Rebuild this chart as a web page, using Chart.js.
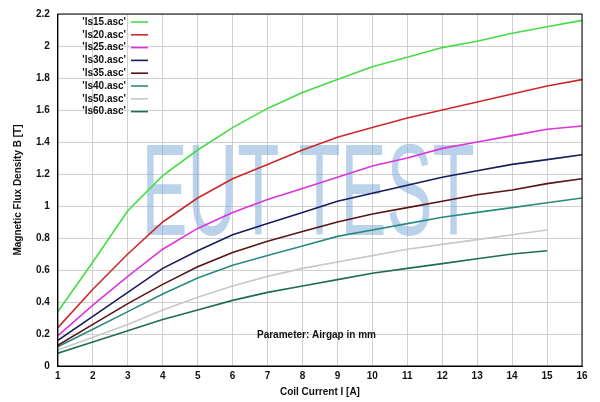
<!DOCTYPE html>
<html><head><meta charset="utf-8">
<script src="https://cdn.jsdelivr.net/npm/chart.js@4"></script>
<style>html,body{margin:0;padding:0;background:#fff}#w{width:600px;height:402px}</style>
</head><body><div id="w"><canvas id="c"></canvas></div>
<script>
const currents = [1,2,3,4,5,6,7,8,9,10,11,12,13,14,15,16];
const labels = ["'ls15.asc'","'ls20.asc'","'ls25.asc'","'ls30.asc'","'ls35.asc'","'ls40.asc'","'ls50.asc'","'ls60.asc'"];
const ls15 = [0.34,0.65,0.97,1.19,1.35,1.49,1.61,1.71,1.79,1.87,1.93,1.99,2.03,2.08,2.12,2.16];
const ls20 = [0.24,0.48,0.70,0.90,1.05,1.17,1.26,1.35,1.43,1.49,1.55,1.60,1.65,1.70,1.75,1.79];
const ls25 = [0.19,0.38,0.56,0.73,0.86,0.96,1.04,1.11,1.18,1.25,1.30,1.36,1.40,1.44,1.48,1.50];
const ls30 = [0.16,0.31,0.46,0.61,0.72,0.82,0.89,0.96,1.03,1.08,1.13,1.18,1.22,1.26,1.29,1.32];
const ls35 = [0.13,0.26,0.39,0.51,0.62,0.71,0.78,0.84,0.90,0.95,0.99,1.03,1.07,1.10,1.14,1.17];
const ls40 = [0.12,0.23,0.34,0.45,0.55,0.63,0.69,0.75,0.81,0.85,0.89,0.93,0.96,0.99,1.02,1.05];
const ls50 = [0.10,0.18,0.26,0.35,0.43,0.50,0.56,0.61,0.65,0.69,0.73,0.76,0.79,0.82,0.85];
const ls60 = [0.08,0.15,0.22,0.29,0.35,0.41,0.46,0.50,0.54,0.58,0.61,0.64,0.67,0.70,0.72];
const series = [ls15,ls20,ls25,ls30,ls35,ls40,ls50,ls60];
const colors = ['#44dd44','#cc2a2a','#dd33dd','#1a1a5e','#5a1414','#2a8a80','#c8c8c8','#1f6e4e'];

const datasets = series.map((s,i)=>({label:labels[i],data:s.map((v,j)=>({x:currents[j],y:v})),borderColor:colors[i],borderWidth:1.6,pointRadius:0,fill:false,tension:0}));

const deco = {
  id:'deco',
  beforeDatasetsDraw(ch){
    const {ctx}=ch;
    ctx.save();
    ctx.fillStyle='rgba(130,175,218,0.55)';
    ctx.font='130px "Liberation Sans", Arial, sans-serif';
    ctx.textAlign='center';ctx.textBaseline='alphabetic';
    ctx.translate(308,235);ctx.scale(0.53,1);
    ctx.fillText('EUT TEST',0,0);
    ctx.restore();
  },
  afterDatasetsDraw(ch){
    const {ctx,chartArea:a,scales}=ch;
    ctx.save();
    ctx.font='bold 10px "Liberation Sans", Arial, sans-serif';
    ctx.fillStyle='#111';ctx.textBaseline='middle';ctx.textAlign='right';
    labels.forEach((l,i)=>{
      const y=22+i*12.8;
      ctx.fillText(l,126,y);
      ctx.strokeStyle=colors[i];ctx.lineWidth=1.6;
      ctx.beginPath();ctx.moveTo(131,y);ctx.lineTo(148,y);ctx.stroke();
    });
    ctx.textAlign='center';
    ctx.fillText('Parameter: Airgap in mm',scales.x.getPixelForValue(8.4),scales.y.getPixelForValue(0.19));
    ctx.strokeStyle='#000';ctx.lineWidth=1;
    ctx.strokeRect(a.left,a.top,a.right-a.left,a.bottom-a.top);
    ctx.restore();
  }
};

new Chart(document.getElementById('c'),{
  type:'line',
  data:{datasets},
  options:{
    responsive:true,maintainAspectRatio:false,animation:false,
    layout:{padding:{top:6,right:18,left:8,bottom:0}},
    plugins:{legend:{display:false},tooltip:{enabled:false}},
    scales:{
      x:{type:'linear',min:1,max:16,
        ticks:{stepSize:1,color:'#111',font:{size:10,weight:'bold',family:'"Liberation Sans", Arial'},padding:4},
        grid:{color:'#cfcfcf',tickLength:0},border:{color:'#000'},
        title:{display:true,text:'Coil Current I [A]',color:'#111',font:{size:10,weight:'bold',family:'"Liberation Sans", Arial'},padding:{top:0}}},
      y:{min:0,max:2.2,
        ticks:{stepSize:0.2,color:'#111',font:{size:10,weight:'bold',family:'"Liberation Sans", Arial'},padding:8,callback:v=>Math.round(v*10)/10},
        grid:{color:'#cfcfcf',tickLength:0},border:{color:'#000'},
        title:{display:true,text:'Magnetic Flux Density B [T]',color:'#111',font:{size:10,weight:'bold',family:'"Liberation Sans", Arial'},padding:{bottom:4}}}
    }
  },
  plugins:[deco]
});
</script></body></html>
